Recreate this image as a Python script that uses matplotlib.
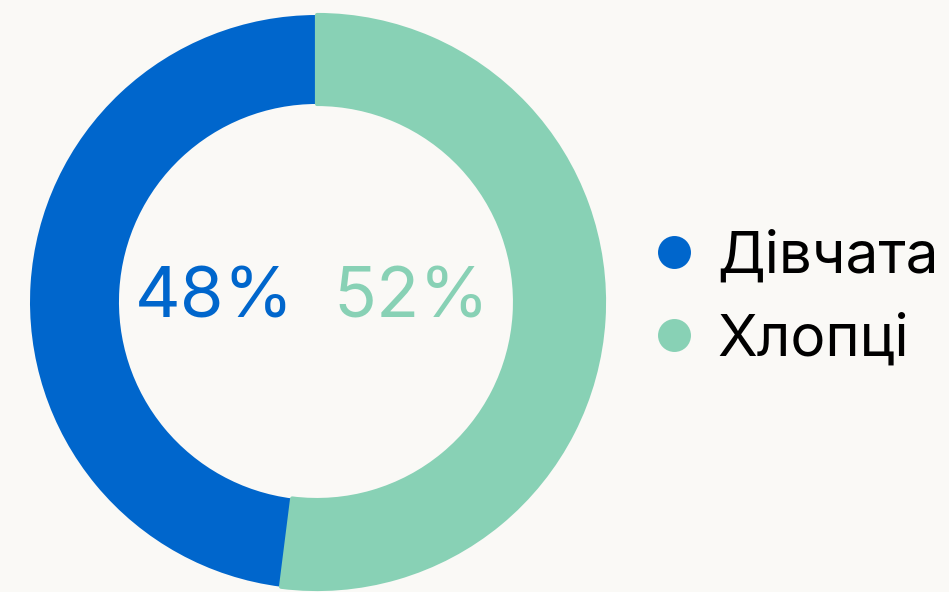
import matplotlib
matplotlib.use('Agg')
import matplotlib.pyplot as plt

labels = ['Дівчата', 'Хлопці']
values = [48, 52]
colors = ['#0066CC', '#88D1B5']
bg = '#FAF9F6'

W, H = 949, 592
fig = plt.figure(figsize=(W/100, H/100), dpi=100, facecolor=bg)
ax = fig.add_axes([0, 0, 1, 1])
ax.set_facecolor(bg)

cx, cy, R = 317, H - 302, 287
wedges, _ = ax.pie(values, colors=colors, startangle=90, counterclock=True,
                   center=(cx, cy), radius=R, frame=True,
                   wedgeprops=dict(width=R*0.31, linewidth=0))
# slight rounded edges on the green segment
wedges[1].set_edgecolor(colors[1])
wedges[1].set_linewidth(3)
wedges[1].set_joinstyle('round')

ax.set_xlim(0, W)
ax.set_ylim(0, H)
ax.set_aspect('equal')
ax.axis('off')

font = ['Inter', 'DejaVu Sans']
ax.text(215, H - 318, f'{values[0]}%', color=colors[0], fontsize=51,
        family=font, ha='center', va='baseline')
ax.text(411, H - 318, f'{values[1]}%', color=colors[1], fontsize=51,
        family=font, ha='center', va='baseline')

for i, (lab, c) in enumerate(zip(labels, colors)):
    y = H - (252 + i*83)
    ax.scatter([674], [y], s=32**2*0.55, color=c, linewidths=0)
    ax.text(717, y, lab, color='black', fontsize=42, family=font,
            ha='left', va='center_baseline')

fig.savefig('out.png', dpi=100, facecolor=bg)
